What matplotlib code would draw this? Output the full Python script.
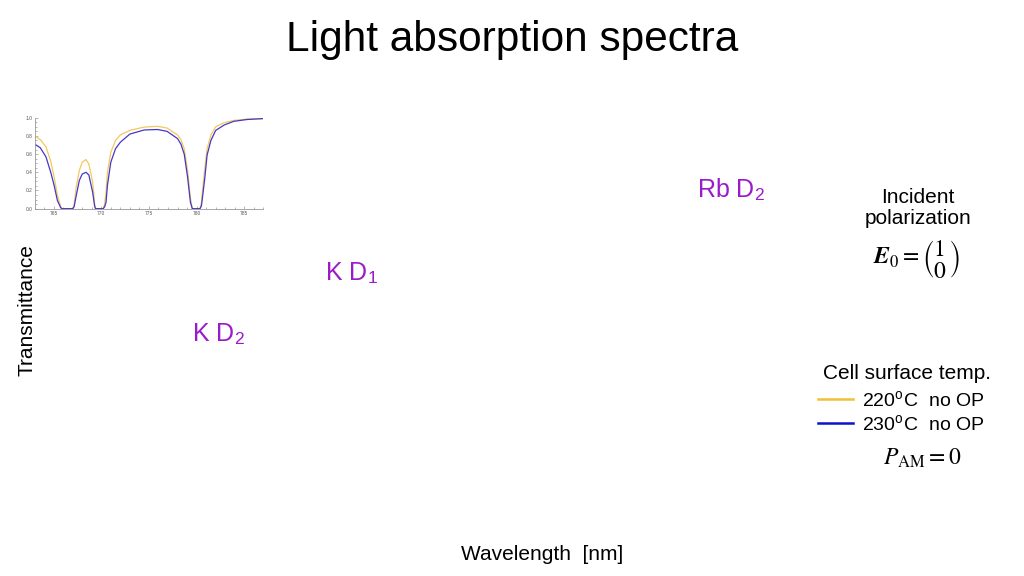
import matplotlib
matplotlib.use("Agg")
import matplotlib.pyplot as plt
from matplotlib.lines import Line2D
from matplotlib.ticker import MultipleLocator

plt.rcParams["font.family"] = ["Liberation Sans", "DejaVu Sans"]
plt.rcParams["mathtext.fontset"] = "stix"

# transmittance (nm, fraction)
wavelength = [763.0, 763.6, 764.2, 764.7, 765.05, 765.4, 765.75, 765.9, 767.0, 767.15,
              767.35, 767.7, 768.0, 768.4, 768.7, 769.1, 769.3, 769.4, 770.2, 770.35,
              770.5, 770.65, 771.0, 771.5, 772.0, 773.0, 774.5, 775.9, 776.9, 778.0,
              778.35, 778.7, 779.05, 779.35, 779.55, 780.35, 780.5, 780.6, 780.85, 781.1,
              781.5, 782.0, 782.9, 783.9, 785.3, 787.0]
trans_220 = [0.80, 0.76, 0.68, 0.52, 0.35, 0.15, 0.02, 0.0, 0.0, 0.04,
             0.22, 0.42, 0.51, 0.54, 0.49, 0.29, 0.06, 0.0, 0.0, 0.05,
             0.18, 0.40, 0.62, 0.75, 0.81, 0.86, 0.897, 0.905, 0.886, 0.81,
             0.76, 0.66, 0.42, 0.12, 0.0, 0.0, 0.06, 0.18, 0.44, 0.66,
             0.81, 0.90, 0.945, 0.97, 0.985, 0.99]
trans_230 = [0.71, 0.67, 0.57, 0.40, 0.26, 0.09, 0.01, 0.0, 0.0, 0.02,
             0.13, 0.31, 0.38, 0.40, 0.37, 0.18, 0.03, 0.0, 0.0, 0.02,
             0.07, 0.26, 0.51, 0.66, 0.73, 0.82, 0.865, 0.87, 0.85, 0.77,
             0.71, 0.60, 0.35, 0.07, 0.0, 0.0, 0.03, 0.11, 0.33, 0.59,
             0.75, 0.86, 0.92, 0.96, 0.98, 0.99]

x_ticks = [765, 770, 775, 780, 785]
y_ticks = [0.0, 0.2, 0.4, 0.6, 0.8, 1.0]

YELLOW_INSET = "#F4C85A"
YELLOW = "#F2C035"
BLUE_INSET = "#4338C8"
BLUE = "#0A14C8"
PURPLE = "#9A1CC8"

fig = plt.figure(figsize=(10.24, 5.76), dpi=100)

# small inset spectrum
ax = fig.add_axes([0.0337, 0.6377, 0.2235, 0.158])
ax.plot(wavelength, trans_220, color=YELLOW_INSET, lw=0.9)
ax.plot(wavelength, trans_230, color=BLUE_INSET, lw=0.9)
ax.set_xlim(763.0, 787.0)
ax.set_ylim(0, 1.0)
ax.set_xticks(x_ticks)
ax.set_yticks(y_ticks)
ax.set_yticklabels([f"{v:.1f}" for v in y_ticks])
ax.xaxis.set_minor_locator(MultipleLocator(1))
ax.yaxis.set_minor_locator(MultipleLocator(0.05))
for side in ("top", "right"):
    ax.spines[side].set_visible(False)
for side in ("left", "bottom"):
    ax.spines[side].set_color("#999999")
    ax.spines[side].set_linewidth(0.6)
ax.tick_params(which="both", direction="in", colors="#999999", width=0.5,
               labelsize=3.5, labelcolor="#555555", pad=1.5)
ax.tick_params(which="major", length=2.5)
ax.tick_params(which="minor", length=1.2)
ax.patch.set_alpha(0)

# slide texts
fig.text(0.5, 0.930, "Light absorption spectra", ha="center", va="center", fontsize=30.5)
fig.text(0.0264, 0.462, "Transmittance", rotation=90, ha="center", va="center", fontsize=15)
fig.text(0.529, 0.037, "Wavelength  [nm]", ha="center", va="center", fontsize=15)

fig.text(0.6807, 0.671, r"Rb D$_\mathregular{2}$", ha="left", va="center", fontsize=18, color=PURPLE)
fig.text(0.3174, 0.525, r"K D$_\mathregular{1}$", ha="left", va="center", fontsize=18, color=PURPLE)
fig.text(0.1875, 0.419, r"K D$_\mathregular{2}$", ha="left", va="center", fontsize=18, color=PURPLE)

fig.text(0.8965, 0.657, "Incident", ha="center", va="center", fontsize=15)
fig.text(0.8965, 0.621, "polarization", ha="center", va="center", fontsize=15)
fig.text(0.895, 0.551, r"$\boldsymbol{E}_0 = \left(\genfrac{}{}{0}{0}{1}{0}\right)$",
         ha="center", va="center", fontsize=17)

fig.text(0.886, 0.351, "Cell surface temp.", ha="center", va="center", fontsize=15)
legend_rows = [("220$^\\mathregular{o}$C  no OP", YELLOW, 0.307),
               ("230$^\\mathregular{o}$C  no OP", BLUE, 0.266)]
for label, col, yy in legend_rows:
    fig.add_artist(Line2D([0.799, 0.833], [yy, yy], color=col, lw=1.8,
                          transform=fig.transFigure))
    fig.text(0.842, yy - 0.003, label, ha="left", va="center", fontsize=14)
fig.text(0.901, 0.205, r"$P_{\mathrm{AM}} = 0$", ha="center", va="center", fontsize=17)

fig.savefig("out.png", dpi=100)
